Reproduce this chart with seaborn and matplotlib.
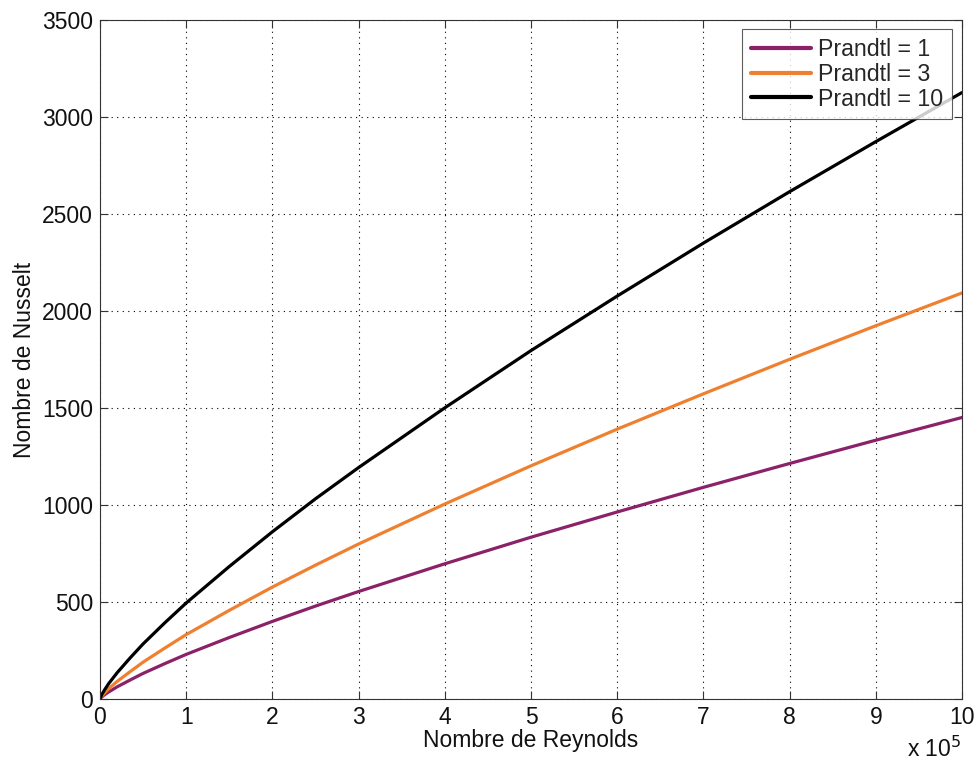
import matplotlib
matplotlib.use("Agg")
import matplotlib.pyplot as plt
import seaborn as sns
import pandas as pd

# Reynolds number in units of 1e5
reynolds = [0, 0.02, 0.05, 0.1, 0.2, 0.35, 0.5, 0.75, 1, 1.5, 2, 2.5, 3, 4, 5, 6, 7, 8, 9, 10]
nu_pr1 = [0, 10, 21, 36, 63, 98, 132, 182, 230, 317, 400, 479, 554, 697, 834, 964, 1091, 1214, 1334, 1451]
nu_pr3 = [0, 15, 30, 53, 91, 141, 190, 262, 332, 457, 577, 690, 799, 1005, 1202, 1391, 1573, 1751, 1924, 2093]
nu_pr10 = [0, 22, 45, 79, 136, 212, 284, 392, 495, 683, 862, 1032, 1193, 1501, 1796, 2077, 2350, 2615, 2873, 3126]
labels = ["Prandtl = 1", "Prandtl = 3", "Prandtl = 10"]
colors = ["#8B2168", "#EE8030", "#000000"]

sns.set_theme(style="white")
plt.rcParams["font.family"] = ["Liberation Sans", "DejaVu Sans"]

rows = []
for lab, vals in zip(labels, [nu_pr1, nu_pr3, nu_pr10]):
    for r, v in zip(reynolds, vals):
        rows.append({"Re": r, "Nu": v, "serie": lab})
df = pd.DataFrame(rows)

fig = plt.figure(figsize=(9.77, 7.67), dpi=100)
ax = fig.add_axes([100 / 977, 1 - 699 / 767, 862 / 977, 679 / 767])

sns.lineplot(data=df, x="Re", y="Nu", hue="serie", palette=dict(zip(labels, colors)),
             hue_order=labels, linewidth=2.3, ax=ax, estimator=None, sort=True)

ax.set_xlim(0, 10)
ax.set_ylim(0, 3500)
ax.set_xticks(range(0, 11))
ax.set_yticks(range(0, 3501, 500))
ax.grid(True, color="black", linestyle=(0, (1, 4)), linewidth=0.8)
for s in ax.spines.values():
    s.set_color("#333333")
    s.set_linewidth(0.8)
ax.tick_params(direction="in", length=6, width=0.8, colors="#333333", labelsize=16.5,
               labelcolor="#111111", top=True, right=True, bottom=True, left=True, pad=5)
ax.set_xlabel("Nombre de Reynolds", fontsize=16.5, labelpad=0, color="#111111")
ax.set_ylabel("Nombre de Nusselt", fontsize=16.5, labelpad=4, color="#111111")
fig.text(907 / 977, 1 - 757 / 767, r"x 10$^5$", fontsize=16.5, ha="left", va="baseline", color="#111111")

leg = ax.legend(loc="upper right", fontsize=16.7, frameon=True, fancybox=False,
                edgecolor="#333333", handlelength=2.6, borderpad=0.38, labelspacing=0.08,
                handletextpad=0.3, borderaxespad=0.0, bbox_to_anchor=(1 - 10 / 862, 1 - 9 / 679))
leg.get_frame().set_linewidth(0.8)
for l in leg.get_lines():
    l.set_linewidth(3.0)

fig.savefig("out.png", dpi=100, facecolor="white")
